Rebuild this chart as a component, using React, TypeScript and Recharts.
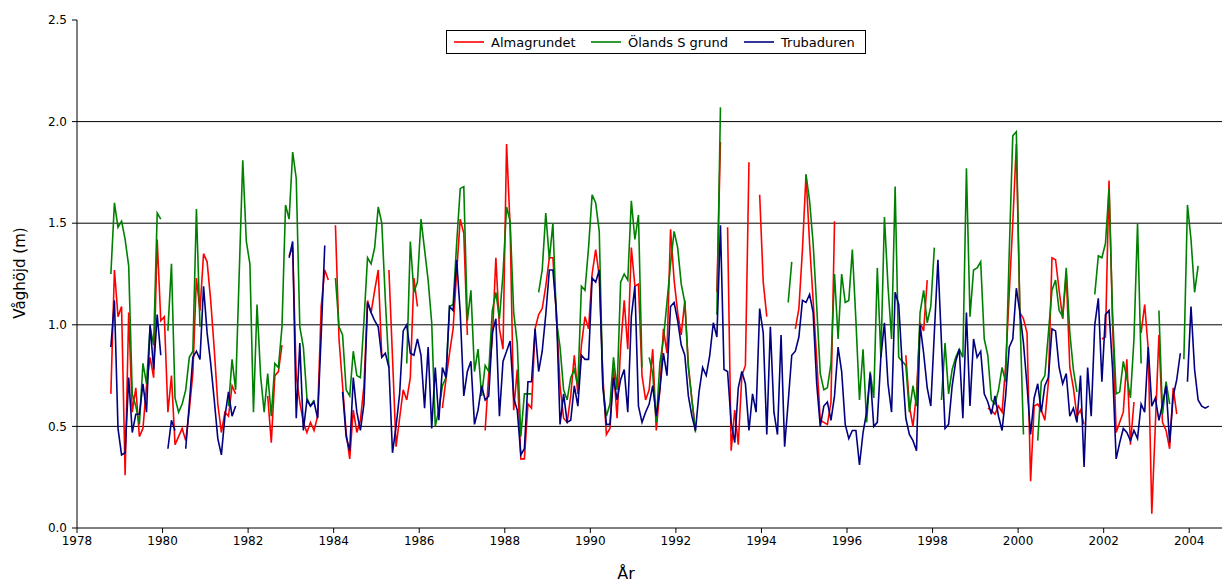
import { LineChart, Line, XAxis, YAxis, CartesianGrid, Legend, Label } from 'recharts';

// monthly mean wave height, first value = Oct 1978, last = Jun 2004
const START_YEAR = 1978;
const START_MONTH = 9; // 0-based, October

const n = null;

const almagrundet: (number | null)[] = [
  0.66, 1.27, 1.04,
  1.09, 0.26, 1.06, 0.57, 0.69, 0.45, 0.49, 0.70, 0.84, 0.74, 1.42, 1.02, // 1979
  1.04, 0.57, 0.75, 0.41, 0.45, 0.49, 0.43, 0.58, 0.76, 1.23, 1.07, 1.35, // 1980
  1.31, 1.12, 0.88, 0.61, 0.47, 0.57, 0.55, 0.70, 0.66, n, n, n, // 1981
  n, n, n, n, n, 0.65, 0.42, 0.75, 0.77, 0.90, n, 1.34, // 1982
  1.38, 0.75, 0.62, 0.52, 0.47, 0.52, 0.48, 0.55, 1.09, 1.27, 1.22, n, // 1983
  1.49, 0.93, 0.70, 0.47, 0.34, 0.58, 0.47, 0.53, 0.70, 1.12, 1.06, 1.17, // 1984
  1.27, 0.84, n, 1.27, 0.84, 0.40, 0.54, 0.68, 0.63, 0.74, 1.23, 1.09, // 1985
  n, n, n, n, n, n, 0.59, 0.73, 0.86, 0.98, 1.26, 1.52, // 1986
  1.45, 0.95, n, n, n, n, 0.48, 0.76, 0.93, 1.33, 0.98, 0.88, // 1987
  1.89, 1.48, 0.58, 0.78, 0.34, 0.34, 0.61, 0.59, 0.98, 1.05, 1.08, 1.19, // 1988
  1.33, 1.33, 1.04, 0.70, 0.54, 0.52, 0.65, 0.85, 0.66, 0.90, 1.04, 0.98, // 1989
  1.25, 1.37, 1.24, 0.75, 0.46, 0.49, 0.79, 0.54, 0.89, 1.12, 0.88, 1.38, // 1990
  1.19, 1.20, 0.75, 0.63, 0.68, 0.88, 0.48, 0.68, 0.98, 0.86, 1.47, 1.22, // 1991
  1.06, 0.95, 1.12, 0.80, 0.63, 0.48, n, n, n, n, n, 1.16, // 1992
  1.90, n, 1.48, 0.38, 0.58, 0.41, 0.75, 0.80, 1.80, n, n, 1.64, // 1993
  1.21, 1.04, n, n, n, n, n, n, n, 0.98, 1.08, 1.37, // 1994
  1.74, 1.40, 1.12, 0.83, 0.53, 0.52, 0.51, 0.62, 1.51, n, n, n, // 1995
  n, n, n, n, n, n, n, n, n, n, n, n, // 1996
  n, n, n, n, 0.85, 0.60, 0.50, 0.66, 1.01, 0.97, 1.22, n, // 1997
  n, n, n, n, n, n, n, n, n, n, n, n, // 1998
  n, n, n, 0.59, 0.58, 0.56, 0.60, 0.57, 0.80, 1.15, 1.50, 1.89, // 1999
  1.06, 1.03, 0.96, 0.23, 0.60, 0.61, 0.58, 0.53, 0.72, 1.33, 1.32, 1.17, // 2000
  1.03, 1.25, 0.79, 0.69, 0.55, 0.58, 0.51, n, n, n, n, 0.93, // 2001
  0.94, 1.71, 1.00, 0.47, 0.52, 0.57, 0.83, 0.41, 0.62, n, 0.96, 1.10, // 2002
  0.88, 0.07, 0.51, 0.95, 0.52, 0.48, 0.39, 0.69, 0.56, n, n, n, // 2003
  n, n, n, n, n, n, // 2004
];

const olandsSGrund: (number | null)[] = [
  1.25, 1.60, 1.48,
  1.51, 1.42, 1.29, 0.66, 0.60, 0.51, 0.81, 0.71, 0.99, 0.90, 1.55, 1.52, // 1979
  n, 0.97, 1.30, 0.64, 0.57, 0.61, 0.68, 0.84, 0.87, 1.57, 0.99, n, // 1980
  n, n, n, n, n, n, 0.60, 0.83, 0.68, 1.25, 1.81, 1.41, // 1981
  1.30, 0.57, 1.10, 0.75, 0.57, 0.76, 0.55, 0.81, 0.79, 0.99, 1.59, 1.52, // 1982
  1.85, 1.72, 0.99, 0.89, 0.64, 0.60, 0.63, n, n, n, n, n, // 1983
  1.23, 0.99, 0.95, 0.68, 0.65, 0.87, 0.75, 0.74, 1.02, 1.33, 1.30, 1.38, // 1984
  1.58, 1.50, 1.12, 0.79, n, n, n, n, 0.81, 1.41, 1.16, 1.21, // 1985
  1.52, 1.37, 1.22, 1.01, 0.50, 0.58, 0.70, 0.74, 1.09, 1.10, 1.40, 1.67, // 1986
  1.68, 1.02, 1.17, 0.77, 0.88, 0.65, 0.80, 0.77, 1.07, 1.16, 1.03, 1.25, // 1987
  1.58, 1.51, 1.06, 0.91, 0.45, 0.66, 0.66, 0.66, n, 1.16, 1.27, 1.55, // 1988
  1.32, 1.50, 1.02, 0.89, 0.68, 0.63, 0.74, 0.78, 0.70, 1.19, 1.17, 1.38, // 1989
  1.64, 1.60, 1.46, 0.70, 0.55, 0.61, 0.84, 0.68, 1.21, 1.25, 1.22, 1.61, // 1990
  1.42, 1.54, 0.79, n, 0.84, 0.76, 0.52, 0.81, 0.93, 1.11, 1.30, 1.46, // 1991
  1.38, 1.20, 1.11, 0.79, 0.63, 0.47, n, n, n, n, n, 1.05, // 1992
  2.07, n, n, n, n, n, n, n, n, n, n, n, // 1993
  n, n, n, n, n, n, n, 1.11, 1.31, n, n, n, // 1994
  1.74, 1.61, 1.40, 1.09, 0.76, 0.68, 0.69, 0.81, 1.25, 0.93, 1.25, 1.11, // 1995
  1.12, 1.37, 1.02, 0.63, 0.88, 0.52, 0.77, 0.64, 1.28, 0.84, 1.53, 1.19, // 1996
  0.93, 1.68, 0.84, 0.82, 0.80, 0.57, 0.70, 0.60, 1.06, 1.17, 1.01, 1.09, // 1997
  1.38, n, 0.63, 0.91, 0.66, 0.78, 0.84, 0.88, 0.84, 1.77, 1.04, 1.27, // 1998
  1.28, 1.31, 0.93, 0.85, 0.63, 0.61, 0.68, 0.79, 0.72, 1.35, 1.93, 1.95, // 1999
  1.05, 0.46, n, n, n, 0.43, 0.72, 0.75, 0.96, 1.17, 1.22, 1.07, // 2000
  1.04, 1.28, 0.96, 0.78, 0.67, n, n, n, n, 1.15, 1.34, 1.33, // 2001
  1.40, 1.67, 1.05, 0.66, 0.67, 0.82, 0.74, 0.64, 0.93, 1.50, 0.81, n, // 2002
  n, n, n, 1.07, 0.56, 0.72, 0.61, n, n, n, 0.83, 1.59, // 2003
  1.42, 1.16, 1.29, n, n, n, // 2004
];

const trubaduren: (number | null)[] = [
  0.89, 1.12, 0.49,
  0.36, 0.37, 0.74, 0.47, 0.56, 0.56, 0.71, 0.57, 1.00, 0.78, 1.05, 0.85, // 1979
  n, 0.39, 0.53, 0.48, n, n, 0.39, 0.61, 0.84, 0.87, 0.83, 1.19, // 1980
  0.96, 0.81, 0.63, 0.44, 0.36, 0.55, 0.67, 0.55, 0.60, n, n, n, // 1981
  n, n, n, n, n, n, n, n, n, n, n, 1.33, // 1982
  1.41, 0.54, 0.91, 0.48, 0.63, 0.60, 0.62, 0.54, 0.95, 1.39, n, n, // 1983
  n, n, 0.67, 0.45, 0.38, 0.74, 0.57, 0.48, 0.61, 1.11, 1.06, 1.02, // 1984
  0.99, 0.84, 0.86, 0.79, 0.37, 0.50, 0.66, 0.97, 1.00, 0.86, 0.85, 0.93, // 1985
  0.85, 0.59, 0.89, 0.49, 0.79, 0.53, 0.79, 0.74, 1.09, 1.07, 1.32, 1.06, // 1986
  0.65, 0.77, 0.82, 0.51, 0.58, 0.70, 0.63, 0.65, 0.96, 1.03, 0.55, 0.82, // 1987
  0.87, 0.92, 0.64, 0.58, 0.36, 0.39, 0.72, 0.72, 0.98, 0.77, 0.87, 1.05, // 1988
  1.27, 1.27, 1.06, 0.51, 0.66, 0.52, 0.53, 0.70, 0.60, 0.85, 0.83, 0.83, // 1989
  1.23, 1.21, 1.27, 0.70, 0.51, 0.51, 0.74, 0.63, 0.73, 0.78, 0.57, 1.04, // 1990
  1.19, 0.60, 0.52, 0.57, 0.61, 0.70, 0.55, 0.68, 0.86, 0.75, 1.09, 1.11, // 1991
  1.02, 0.90, 0.85, 0.65, 0.55, 0.48, 0.67, 0.79, 0.75, 0.85, 1.01, 0.94, // 1992
  1.49, 0.78, 0.77, 0.52, 0.42, 0.69, 0.77, 0.71, 0.48, 0.66, 0.57, 1.08, // 1993
  0.96, 0.46, 0.99, 0.57, 0.46, 0.95, 0.40, 0.62, 0.85, 0.87, 0.94, 1.12, // 1994
  1.11, 1.15, 1.06, 0.71, 0.50, 0.60, 0.62, 0.53, 0.65, 0.89, 0.77, 0.51, // 1995
  0.44, 0.48, 0.48, 0.31, 0.47, 0.57, 0.76, 0.50, 0.52, 0.84, 1.01, 0.71, // 1996
  0.57, 1.16, 1.10, 0.80, 0.54, 0.46, 0.43, 0.38, 1.00, 0.86, 0.69, 0.60, // 1997
  0.96, 1.32, 0.91, 0.49, 0.51, 0.70, 0.82, 0.88, 0.54, 1.06, 0.60, 0.93, // 1998
  0.84, 0.87, 0.66, 0.62, 0.56, 0.65, 0.55, 0.48, 0.65, 0.89, 0.93, 1.18, // 1999
  1.06, 0.91, 0.70, 0.46, 0.64, 0.71, 0.57, 0.70, 0.74, 0.98, 0.97, 0.79, // 2000
  0.71, 0.76, 0.55, 0.59, 0.52, 0.75, 0.30, 0.79, 0.55, 1.00, 1.13, 0.72, // 2001
  1.05, 1.07, 0.78, 0.34, 0.42, 0.49, 0.47, 0.43, 0.48, 0.44, 0.61, 0.57, // 2002
  0.89, 0.60, 0.64, 0.53, 0.61, 0.70, 0.42, 0.65, 0.73, 0.86, n, 0.72, // 2003
  1.09, 0.78, 0.63, 0.60, 0.59, 0.60, // 2004
];

const yearTicks = [1978, 1980, 1982, 1984, 1986, 1988, 1990, 1992, 1994, 1996, 1998, 2000, 2002, 2004];
const heightTicks = [0, 0.5, 1, 1.5, 2, 2.5];

const series = [
  { key: 'alma', name: 'Almagrundet', color: '#ff0000' },
  { key: 'oland', name: 'Ölands S grund', color: '#008000' },
  { key: 'truba', name: 'Trubaduren', color: '#000080' },
];

const data = almagrundet.map((v, i) => ({
  t: START_YEAR + (START_MONTH + i + 0.5) / 12,
  alma: v,
  oland: olandsSGrund[i],
  truba: trubaduren[i],
}));

const FONT = '"DejaVu Sans", sans-serif';

function LegendBox() {
  // line sample at 7..37, text after it; slots picked to match the original box
  const slots = [7, 144, 297];
  return (
    <div style={{ position: 'relative', width: 418, height: 22, border: '1px solid #000', background: '#fff', fontFamily: FONT, fontSize: 13 }}>
      {series.map((s, i) => (
        <div key={s.key} style={{ position: 'absolute', left: slots[i], top: 0, height: 22, display: 'flex', alignItems: 'center' }}>
          <svg width={30} height={4} style={{ marginRight: 7 }}>
            <line x1={0} y1={2} x2={30} y2={2} stroke={s.color} strokeWidth={1.6} />
          </svg>
          <span>{s.name}</span>
        </div>
      ))}
    </div>
  );
}

export default function App() {
  return (
    <div style={{ position: 'absolute', left: 0, top: 0, background: '#fff', fontFamily: FONT }}>
      <LineChart width={1222} height={583} data={data} margin={{ top: 20, right: 0, bottom: 0, left: 0 }}>
        <CartesianGrid horizontal vertical={false} stroke="#000" horizontalValues={[0.5, 1, 1.5, 2]} />
        <XAxis
          type="number"
          dataKey="t"
          domain={[1978, 2004.766]}
          ticks={yearTicks}
          allowDataOverflow
          height={55}
          tickSize={5}
          tickMargin={3}
          stroke="#000"
          tick={{ fill: '#000', fontSize: 12, fontFamily: FONT }}
        >
          <Label
            content={() => (
              <text x={626} y={579} textAnchor="middle" fontSize={16} fontFamily={FONT} fill="#000">År</text>
            )}
          />
        </XAxis>
        <YAxis
          type="number"
          domain={[0, 2.5]}
          ticks={heightTicks}
          width={77}
          tickSize={5}
          tickMargin={5}
          stroke="#000"
          tickFormatter={(v: number) => v.toFixed(1)}
          tick={{ fill: '#000', fontSize: 12, fontFamily: FONT }}
        >
          <Label
            content={() => (
              <text x={25} y={273} transform="rotate(-90 25 273)" textAnchor="middle" fontSize={15} fontFamily={FONT} fill="#000">Våghöjd (m)</text>
            )}
          />
        </YAxis>
        <Legend
          layout="horizontal"
          verticalAlign="middle"
          align="center"
          wrapperStyle={{ left: 446, top: 30, width: 420, height: 24 }}
          content={() => <LegendBox />}
        />
        {series.map(s => (
          <Line
            key={s.key}
            type="linear"
            dataKey={s.key}
            name={s.name}
            stroke={s.color}
            strokeWidth={1.6}
            dot={false}
            activeDot={false}
            isAnimationActive={false}
          />
        ))}
      </LineChart>
    </div>
  );
}
